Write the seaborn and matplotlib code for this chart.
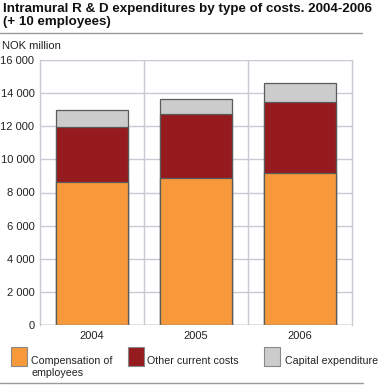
import matplotlib
matplotlib.use("Agg")
import matplotlib.pyplot as plt
import seaborn as sns
import pandas as pd
import numpy as np
from matplotlib.patches import Rectangle
from matplotlib.lines import Line2D

years = ["2004", "2005", "2006"]
compensation = [8620, 8865, 9165]
other_current = [3345, 3865, 4325]
capital = [1010, 905, 1130]
series_names = ["Compensation of\nemployees", "Other current costs", "Capital expenditure"]
colors = ["#F7993A", "#961B1F", "#CCCCCC"]
yticks = [0, 2000, 4000, 6000, 8000, 10000, 12000, 14000, 16000]

sns.set_theme(style="white")
plt.rcParams["font.family"] = ["Liberation Sans", "DejaVu Sans"]

W, H = 389, 386
fig = plt.figure(figsize=(W/100, H/100), dpi=100)
ax = fig.add_axes([40/W, 1-325/H, 312/W, 265/H])

df = pd.DataFrame({"year": years, "comp": compensation, "other": other_current, "cap": capital})
df["c1"] = df["comp"]
df["c2"] = df["comp"] + df["other"]
df["c3"] = df["c2"] + df["cap"]

for col, color in zip(["c3", "c2", "c1"], colors[::-1]):
    sns.barplot(data=df, x="year", y=col, color=color, width=0.69, ax=ax,
                edgecolor="#5a5a5a", linewidth=0.9, saturation=1, zorder=3)

fs = 8.0
ax.set_ylim(0, 16000)
ax.set_xlim(-0.5, 2.5)
ax.set_yticks(yticks)
ax.set_yticklabels([f"{v:,}".replace(",", " ") for v in yticks], fontsize=fs, color="#222222")
ax.tick_params(axis="x", labelsize=fs, length=0, pad=4, colors="#222222")
ax.tick_params(axis="y", length=3, width=1, color="#C8C9D2", pad=1)
ax.set_xlabel("")
ax.set_ylabel("")
ax.grid(axis="y", color="#C8C9D2", linewidth=1, zorder=0)
for xb in [0.5, 1.5]:
    ax.axvline(xb, color="#C8C9D2", linewidth=1, zorder=0)
for s in ["top", "bottom"]:
    ax.spines[s].set_visible(False)
for s in ["left", "right"]:
    ax.spines[s].set_color("#C8C9D2")
    ax.spines[s].set_linewidth(1)
ax.axhline(0, color="#999999", linewidth=1, zorder=4)

fig.text(3/W, 1-3/H, "Intramural R & D expenditures by type of costs. 2004-2006\n(+ 10 employees)",
         fontsize=9.6, fontweight="bold", va="top", ha="left", color="#111111", linespacing=1.1)
fig.add_artist(Line2D([0, 362/W], [1-33/H, 1-33/H], color="#999999", linewidth=1))
fig.text(2/W, 1-46/H, "NOK million", fontsize=fs, va="center", ha="left", color="#222222")

# legend
patch_x = [11, 128, 264]
text_x = [31, 147, 285]
for px, tx, c, name in zip(patch_x, text_x, colors, series_names):
    fig.add_artist(Rectangle((px/W, 1-366/H), 16/W, 19/H, transform=fig.transFigure,
                             facecolor=c, edgecolor="#888888", linewidth=0.8))
    fig.text(tx/W, 1-356/H, name, fontsize=7.7, va="top", ha="left", color="#222222",
             linespacing=1.25)
fig.add_artist(Line2D([0, 363/W], [1-383/H, 1-383/H], color="#999999", linewidth=1))

fig.savefig("out.png", dpi=100)
